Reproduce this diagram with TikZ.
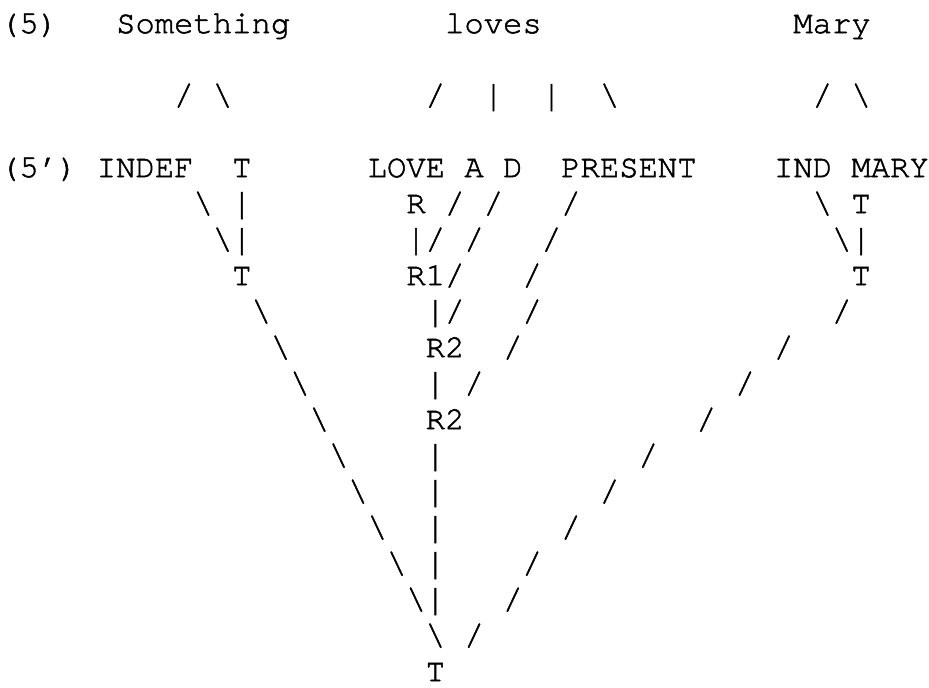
\documentclass[tikz,border=0pt]{standalone}
\usepackage{fontspec}
\newfontfamily\courfont[FakeBold=1.6]{TeX Gyre Cursor}
\newcommand\tallbar{\raisebox{-1pt}{\scalebox{1}[1.15]{|}}}
\tikzset{
  tt/.style={font=\courfont\fontsize{24.19pt}{27pt}\selectfont,inner sep=0pt,outer sep=0pt,anchor=base west},
}
\begin{document}
\begin{tikzpicture}[x=14.5125pt,y=-27pt]
\useasboundingbox (0,0) rectangle (696.75pt,-516pt);

\node[tt] (ex) at (0,0.92) {(5)};
\node[tt] (something) at (6,0.92) {Something};
\node[tt] (loves) at (23,0.92) {loves};
\node[tt] (mary) at (41,0.92) {Mary};

\node[tt] (exb) at (0,4.92) {(5’)};
\node[tt] (indef) at (5,4.92) {INDEF};
\node[tt] (tA) at (12,4.92) {T};
\node[tt] (love) at (19,4.92) {LOVE};
\node[tt] (argA) at (24,4.92) {A};
\node[tt] (argD) at (26,4.92) {D};
\node[tt] (present) at (29,4.92) {PRESENT};
\node[tt] (ind) at (40,4.92) {IND};
\node[tt] (maryc) at (44,4.92) {MARY};

\node[tt] (r) at (21,5.92) {R};
\node[tt] (tM) at (44,5.92) {T};
\node[tt] (tB) at (12,7.92) {T};
\node[tt] (rone) at (21,7.92) {R1};
\node[tt] (tN) at (44,7.92) {T};
\node[tt] (rtwo) at (22,9.92) {R2};
\node[tt] (rtwob) at (22,11.92) {R2};
\node[tt] (troot) at (22,18.92) {T};

\foreach \c/\l in {9/2,22/2,42/2,
  23/5,25/5,29/5, 22/6,24/6,28/6, 23/7,27/7,
  23/8,27/8,43/8, 26/9,40/9, 24/10,38/10, 36/11,
  33/12,31/13,29/14,27/15,26/16,24/17}
  \node[tt] at (\c,\l+0.92) {/};

\foreach \c/\l in {11/2,31/2,44/2,
  10/5,42/5, 11/6,43/6, 13/8,14/9,15/10,16/11,
  17/12,18/13,19/14,20/15,21/16,22/17}
  \node[tt] at (\c,\l+0.92) {\textbackslash};

\foreach \c/\l in {25/2,28/2, 12/5, 12/6,21/6,44/6, 22/8, 22/10,
  22/12,22/13,22/14,22/15,22/16}
  \node[tt] at (\c,\l+0.92) {\tallbar};
\end{tikzpicture}
\end{document}
